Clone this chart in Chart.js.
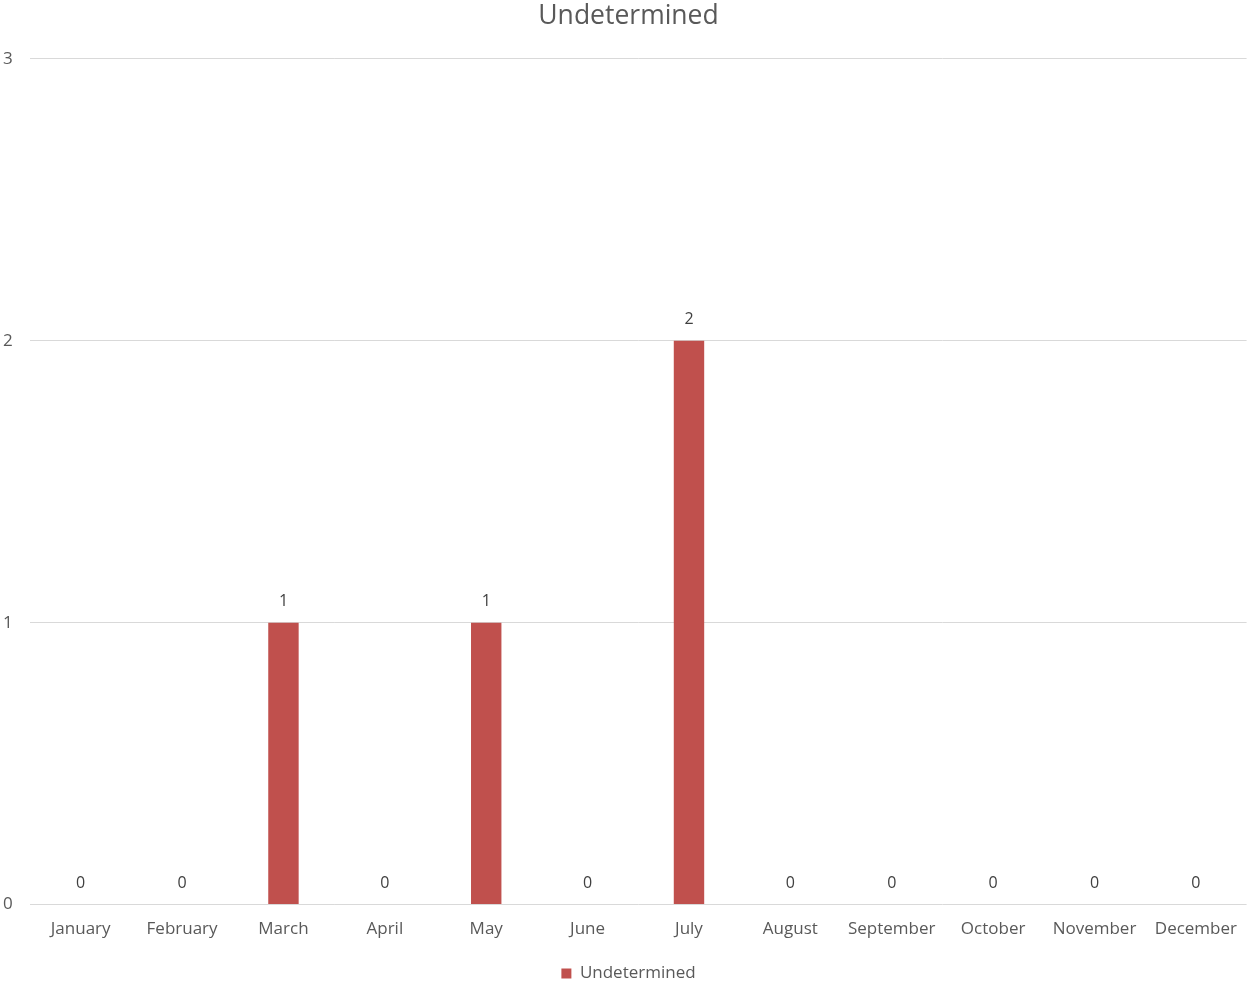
<!DOCTYPE html>
<html>
<head>
<meta charset="utf-8">
<script src="https://cdn.jsdelivr.net/npm/chart.js@4/dist/chart.umd.min.js"></script>
<style>
	html, body { margin: 0; padding: 0; background: #fff; }
	#wrap { width: 1251px; height: 987px; }
</style>
</head>
<body>
<div id="wrap"><canvas id="chart" width="1251" height="987"></canvas></div>
<script>
	const months = ['January','February','March','April','May','June','July','August','September','October','November','December'];
	const undetermined = [0, 0, 1, 0, 1, 0, 2, 0, 0, 0, 0, 0];
	const yTicks = [0, 1, 2, 3];

	const FONT = '"Open Sans", Lato, sans-serif';
	const GREY = '#595959';

	// draws the value above each bar, like the Excel data labels
	const valueLabels = {
		id: 'valueLabels',
		afterDatasetsDraw(chart){
			const ctx = chart.ctx;
			ctx.save();
			ctx.font = '16px ' + FONT;
			ctx.fillStyle = '#404040';
			ctx.textAlign = 'center';
			ctx.textBaseline = 'middle';
			chart.data.datasets.forEach((ds, i) => {
				chart.getDatasetMeta(i).data.forEach((bar, j) => {
					ctx.fillText(String(ds.data[j]), bar.x, bar.y - 21);
				});
			});
			ctx.restore();
		}
	};

	new Chart(document.getElementById('chart'), {
		type: 'bar',
		data: {
			labels: months,
			datasets: [{
				label: 'Undetermined',
				data: undetermined,
				backgroundColor: '#C0504D',
				borderWidth: 0,
				barPercentage: 0.3,
				categoryPercentage: 1
			}]
		},
		options: {
			responsive: false,
			animation: false,
			// negative paddings let the grid run to the edge and the legend sit lower, as in the original
			layout: { padding: { left: 3, right: -3, top: 0, bottom: -5 } },
			plugins: {
				title: {
					display: true,
					text: 'Undetermined',
					color: GREY,
					font: { family: FONT, size: 26.5, weight: 'normal', lineHeight: 1.2 },
					padding: { top: 1, bottom: 26 }
				},
				legend: {
					position: 'bottom',
					labels: {
						color: GREY,
						font: { family: FONT, size: 17 },
						boxWidth: 10,
						boxHeight: 10,
						padding: 12
					}
				},
				tooltip: { enabled: false }
			},
			scales: {
				x: {
					grid: { display: false, drawTicks: false },
					border: { display: false },
					ticks: { color: GREY, font: { family: FONT, size: 17, lineHeight: 1.2 }, padding: 14, maxRotation: 0 }
				},
				y: {
					min: 0,
					max: 3,
					afterBuildTicks(axis){ axis.ticks = yTicks.map(v => ({ value: v })); },
					afterFit(axis){ axis.width = 27; },
					grid: { color: '#d9d9d9', lineWidth: 1, drawTicks: false },
					border: { display: false },
					ticks: { color: GREY, font: { family: FONT, size: 17 }, padding: 18, crossAlign: 'far' }
				}
			}
		},
		plugins: [valueLabels]
	});
</script>
</body>
</html>
